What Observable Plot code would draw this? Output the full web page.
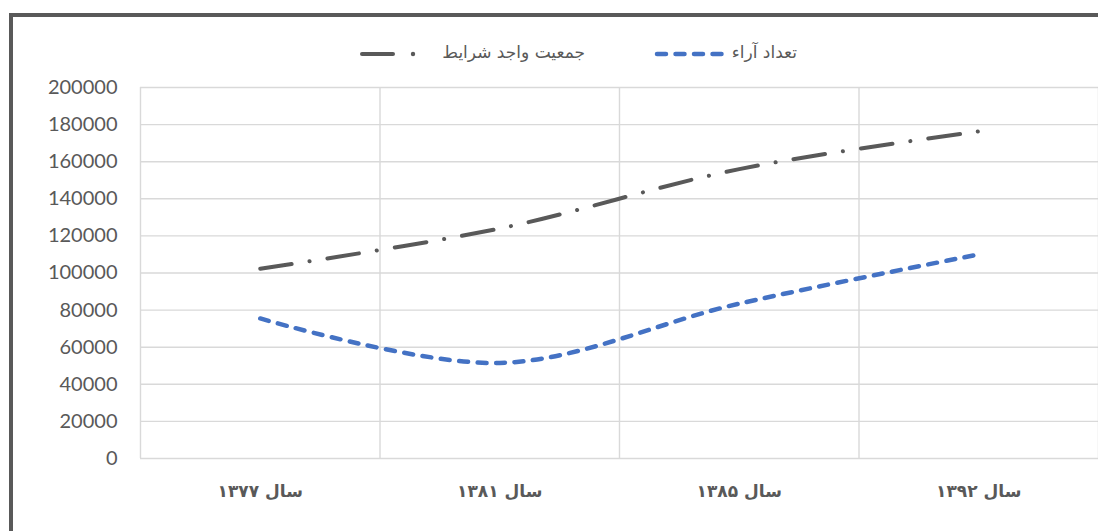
<!DOCTYPE html>
<html><head><meta charset="utf-8">
<script src="https://cdn.jsdelivr.net/npm/d3@7"></script>
<script src="https://cdn.jsdelivr.net/npm/@observablehq/plot@0.6"></script>
<style>
html,body{margin:0;padding:0;background:#fff;}
#wrap{position:relative;width:1098px;height:531px;overflow:hidden;background:#fff;}
#frame{position:absolute;left:9px;top:13px;width:3000px;height:3000px;border-left:4px solid #595959;border-top:4px solid #595959;pointer-events:none;}
#chart{position:absolute;left:0;top:0;}
.legtext{position:absolute;top:41px;font-family:"DejaVu Sans",sans-serif;font-size:17px;color:#595959;direction:rtl;white-space:nowrap;line-height:22px;}
.sw{position:absolute;top:44px;}
</style></head><body>
<div id="wrap">
  <div id="chart"></div>
  <div id="frame"></div>
  <svg class="sw" style="left:355px" width="70" height="20"><line x1="7" x2="38" y1="10" y2="10" stroke="#595959" stroke-width="4" stroke-linecap="round"/><circle cx="58" cy="10" r="2.2" fill="#595959"/></svg>
  <div class="legtext" id="leg2" style="right:513px"></div>
  <svg class="sw" style="left:650px" width="78" height="20"><line x1="7" x2="72" y1="10" y2="10" stroke="#4472c4" stroke-width="4.5" stroke-linecap="round" stroke-dasharray="9 9.5"/></svg>
  <div class="legtext" id="leg1" style="right:301px"></div>
</div>
<script>
const categories = ["سال ۱۳۷۷", "سال ۱۳۸۱", "سال ۱۳۸۵", "سال ۱۳۹۲"];
const seriesNames = ["تعداد آراء", "جمعیت واجد شرایط"];
const votes = [75500, 51500, 83500, 110000];
const eligible = [102300, 124000, 156000, 176300];
const yTicks = [0, 20000, 40000, 60000, 80000, 100000, 120000, 140000, 160000, 180000, 200000];

document.getElementById("leg1").textContent = seriesNames[0];
document.getElementById("leg2").textContent = seriesNames[1];

const votesData = categories.map((c, i) => ({i, value: votes[i], series: seriesNames[0]}));
const eligibleData = categories.map((c, i) => ({i, value: eligible[i], series: seriesNames[1]}));
const bounds = d3.range(categories.length + 1).map(i => i - 0.5);

const chart = Plot.plot({
  width: 1098,
  height: 531,
  marginLeft: 140,
  marginRight: 0,
  marginTop: 87,
  marginBottom: 73,
  style: {background: "transparent", fontFamily: "Lato, sans-serif"},
  x: {type: "linear", domain: [-0.5, categories.length - 0.5], axis: null, label: null},
  y: {domain: [0, 200000], axis: null, label: null},
  marks: [
    Plot.gridY(yTicks, {stroke: "#d9d9d9", strokeOpacity: 1, strokeWidth: 1.4}),
    Plot.ruleX(bounds, {y1: 0, y2: 200000, stroke: "#d9d9d9", strokeWidth: 1.4}),
    Plot.axisY(yTicks, {label: null, tickSize: 0, tickPadding: 23, fontSize: 20, fill: "#595959", tickFormat: d => String(d), fontFamily: "Lato, sans-serif"}),
    Plot.axisX(d3.range(categories.length), {label: null, tickSize: 0, tickPadding: 26, fontSize: 17, fontWeight: "bold", fill: "#595959", tickFormat: i => categories[i], fontFamily: "DejaVu Sans, sans-serif"}),
    Plot.line(eligibleData, {x: "i", y: "value", stroke: "#595959", strokeWidth: 4, curve: "catmull-rom", strokeDasharray: "32 18 0.1 18", strokeLinecap: "round"}),
    Plot.line(votesData, {x: "i", y: "value", stroke: "#4472c4", strokeWidth: 4.5, curve: "catmull-rom", strokeDasharray: "9 9.5", strokeLinecap: "round"})
  ]
});
document.getElementById("chart").appendChild(chart);
</script>
</body></html>
